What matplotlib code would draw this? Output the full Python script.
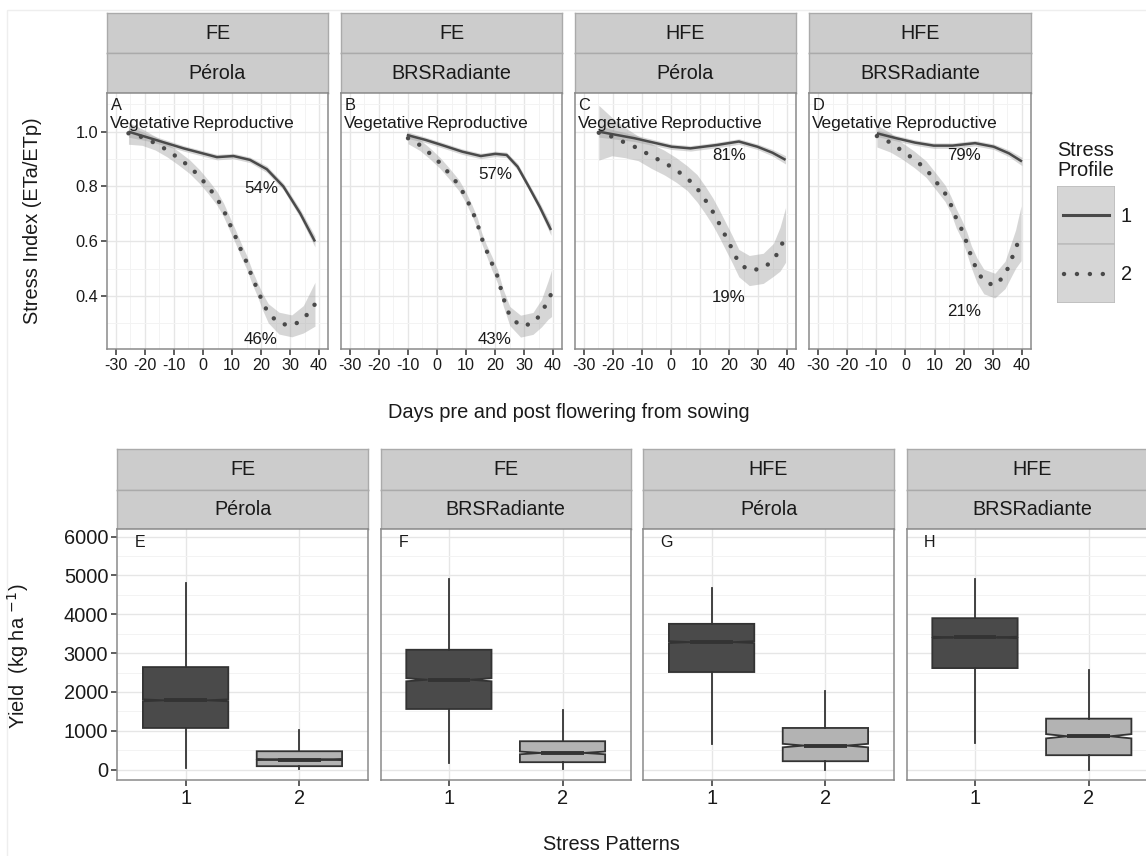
import matplotlib
matplotlib.use("Agg")
import matplotlib.pyplot as plt
from matplotlib.lines import Line2D
from matplotlib.patches import Rectangle

plt.rcParams['font.family'] = ['Liberation Sans', 'DejaVu Sans']

W, H = 1146, 856

# ---------------- data: top panels (stress index) ----------------
top_letters = ['A', 'B', 'C', 'D']
strip1 = ['FE', 'FE', 'HFE', 'HFE']
strip2 = ['Pérola', 'BRSRadiante', 'Pérola', 'BRSRadiante']
pct_upper = ['54%', '57%', '81%', '79%']
pct_upper_y = [0.793, 0.842, 0.912, 0.912]
pct_lower = ['46%', '43%', '19%', '21%']
pct_lower_y = [0.242, 0.242, 0.394, 0.343]
x_ticks_top = [-30, -20, -10, 0, 10, 20, 30, 40]
y_ticks_top = [0.4, 0.6, 0.8, 1.0]

a_x1 = [-25.7, -18.2, -6.7, 4.8, 10.5, 16.2, 22.0, 27.7, 33.5, 38.6]
a_y1 = [1.00, 0.976, 0.939, 0.907, 0.911, 0.897, 0.863, 0.80, 0.702, 0.599]
a_s1 = [0.02, 0.012, 0.01, 0.01, 0.01, 0.01, 0.012, 0.012, 0.015, 0.02]
a_x2 = [-25.7, -21.0, -16.5, -12.4, -8.4, -4.6, -1.2, 1.9, 4.8, 7.1, 9.1, 11.1,
        13.0, 15.1, 16.8, 18.6, 20.5, 22.5, 26.2, 30.6, 34.6, 38.6]
a_y2 = [0.994, 0.98, 0.958, 0.933, 0.903, 0.872, 0.836, 0.797, 0.757, 0.714, 0.666, 0.619,
        0.571, 0.522, 0.473, 0.428, 0.380, 0.337, 0.301, 0.291, 0.315, 0.37]
a_s2 = [0.04, 0.03, 0.025, 0.025, 0.025, 0.025, 0.025, 0.025, 0.025, 0.025, 0.025, 0.025,
        0.025, 0.025, 0.025, 0.025, 0.03, 0.035, 0.04, 0.04, 0.05, 0.08]

b_x1 = [-10.4, -4.0, 2.3, 8.7, 15.1, 20.1, 24.0, 27.8, 31.6, 35.4, 39.3]
b_y1 = [0.988, 0.970, 0.949, 0.927, 0.911, 0.919, 0.915, 0.872, 0.80, 0.726, 0.641]
b_s1 = [0.012, 0.01, 0.01, 0.01, 0.01, 0.01, 0.01, 0.012, 0.012, 0.015, 0.02]
b_x2 = [-10.0, -5.9, -2.3, 1.1, 4.3, 7.5, 9.8, 12.0, 13.9, 15.2, 17.0, 18.9, 20.9,
        22.8, 25.1, 28.8, 33.1, 36.0, 38.3, 39.5]
b_y2 = [0.976, 0.951, 0.919, 0.885, 0.846, 0.805, 0.763, 0.714, 0.666, 0.617, 0.568, 0.52, 0.471,
        0.395, 0.327, 0.29, 0.30, 0.337, 0.385, 0.41]
b_s2 = [0.02, 0.02, 0.02, 0.02, 0.02, 0.02, 0.02, 0.02, 0.02, 0.02, 0.02, 0.025, 0.025,
        0.03, 0.035, 0.04, 0.04, 0.05, 0.07, 0.085]

c_x1 = [-24.9, -12.6, 0.2, 6.7, 15.7, 23.4, 29.8, 35.0, 39.5]
c_y1 = [1.0, 0.976, 0.945, 0.939, 0.951, 0.964, 0.945, 0.923, 0.897]
c_s1 = [0.02, 0.012, 0.01, 0.01, 0.01, 0.01, 0.01, 0.012, 0.015]
c_x2 = [-24.9, -20.4, -15.9, -11.3, -6.8, -2.3, 1.8, 5.6, 9.0, 11.8, 14.4, 16.7, 18.9,
        21.1, 23.4, 27.0, 31.8, 35.3, 37.6, 39.5]
c_y2 = [0.996, 0.982, 0.96, 0.939, 0.911, 0.887, 0.86, 0.83, 0.793, 0.751, 0.708, 0.663, 0.617,
        0.571, 0.52, 0.493, 0.501, 0.532, 0.571, 0.623]
c_s2 = [0.1, 0.07, 0.055, 0.045, 0.045, 0.045, 0.045, 0.045, 0.05, 0.05, 0.05, 0.05, 0.05,
        0.05, 0.05, 0.055, 0.055, 0.06, 0.08, 0.1]

d_x1 = [-9.8, -3.1, 3.3, 9.7, 16.2, 23.9, 30.3, 35.5, 40.0]
d_y1 = [0.994, 0.976, 0.96, 0.949, 0.949, 0.958, 0.945, 0.921, 0.891]
d_s1 = [0.012, 0.01, 0.01, 0.01, 0.01, 0.01, 0.01, 0.012, 0.015]
d_x2 = [-9.8, -5.1, -1.3, 3.0, 7.1, 10.3, 13.6, 15.5, 17.4, 19.4, 21.1, 22.6, 24.5,
        26.9, 30.7, 34.2, 37.8, 39.7]
d_y2 = [0.984, 0.96, 0.931, 0.899, 0.863, 0.82, 0.775, 0.736, 0.684, 0.641, 0.593, 0.544, 0.495,
        0.453, 0.438, 0.477, 0.571, 0.629]
d_s2 = [0.04, 0.035, 0.03, 0.03, 0.03, 0.03, 0.03, 0.03, 0.035, 0.035, 0.04, 0.04, 0.045,
        0.045, 0.045, 0.05, 0.07, 0.1]

top_series = [
    ((a_x1, a_y1, a_s1), (a_x2, a_y2, a_s2)),
    ((b_x1, b_y1, b_s1), (b_x2, b_y2, b_s2)),
    ((c_x1, c_y1, c_s1), (c_x2, c_y2, c_s2)),
    ((d_x1, d_y1, d_s1), (d_x2, d_y2, d_s2)),
]

# ---------------- data: bottom panels (yield boxplots) ----------------
bottom_letters = ['E', 'F', 'G', 'H']
stress_patterns = ['1', '2']
yield_whislo = [[43, 17], [171, 17], [668, 0], [685, 0]]
yield_q1 = [[1071, 86], [1560, 189], [2512, 214], [2614, 369]]
yield_med = [[1783, 257], [2314, 428], [3283, 617], [3403, 857]]
yield_q3 = [[2640, 471], [3086, 729], [3754, 1071], [3900, 1311]]
yield_whishi = [[4816, 1028], [4903, 1543], [4688, 2014], [4903, 2571]]
yield_notch = [[25, 15], [40, 35], [25, 45], [20, 55]]
y_ticks_bottom = [0, 1000, 2000, 3000, 4000, 5000, 6000]

# ---------------- styling ----------------
TXT = '#1a1a1a'
LINE = '#4a4a4a'
RIB = '#9a9a9a'
STRIP_FC = '#cccccc'
STRIP_EC = '#aaaaaa'
BORDER = '#8a8a8a'
GRID_MAJ = '#e6e6e6'
GRID_MIN = '#f3f3f3'
BOX_FILLS = ['#4a4a4a', '#b3b3b3']
BOX_EDGE = '#333333'
DOTS = (0, (0.01, 2.9))

fig = plt.figure(figsize=(W / 100, H / 100), dpi=100)
fig.patch.set_facecolor('white')

# faint outer frame of the original figure
fig.add_artist(Rectangle((7 / W, -0.1), 1.2, 1 - 10 / H + 0.1,
                         transform=fig.transFigure, fill=False,
                         edgecolor='#eeeeee', linewidth=1.0))


def rect(x0, y0, x1, y1):
    return [x0 / W, 1 - y1 / H, (x1 - x0) / W, (y1 - y0) / H]


def add_strip(x0, x1, y0, y1, label):
    sax = fig.add_axes(rect(x0, y0, x1, y1))
    sax.set_facecolor(STRIP_FC)
    sax.set_xticks([])
    sax.set_yticks([])
    for s in sax.spines.values():
        s.set_color(STRIP_EC)
        s.set_linewidth(1.0)
    sax.text(0.5, 0.5, label, ha='center', va='center', fontsize=14.2,
             color=TXT, transform=sax.transAxes)


def style_axes(ax):
    ax.set_axisbelow(True)
    for s in ax.spines.values():
        s.set_color(BORDER)
        s.set_linewidth(1.1)
    ax.grid(True, which='major', color=GRID_MAJ, linewidth=1.0)
    ax.grid(True, which='minor', color=GRID_MIN, linewidth=0.7)
    ax.tick_params(which='major', length=4.5, width=1.1, color='#333333',
                   labelcolor=TXT, pad=2)
    ax.tick_params(which='minor', length=0)


# ---------------- top row ----------------
top_x = [(107, 328), (341, 562), (575, 796), (809, 1031)]
top_y0, top_y1 = 93.3, 349.3
for i, (x0, x1) in enumerate(top_x):
    add_strip(x0, x1, 13.3, 53.3, strip1[i])
    add_strip(x0, x1, 53.3, 93.3, strip2[i])
    ax = fig.add_axes(rect(x0, top_y0, x1, top_y1))
    style_axes(ax)
    ax.set_xlim(-33.1, 43.1)
    ax.set_ylim(0.2055, 1.14)
    ax.set_xticks(x_ticks_top)
    ax.set_xticks([-25, -15, -5, 5, 15, 25, 35], minor=True)
    ax.set_yticks(y_ticks_top)
    ax.set_yticks([0.3, 0.5, 0.7, 0.9, 1.1], minor=True)
    ax.set_xticklabels([str(v) for v in x_ticks_top], fontsize=11.6)
    if i == 0:
        ax.set_yticklabels(['%.1f' % v for v in y_ticks_top], fontsize=11.8)
    else:
        ax.tick_params(axis='y', which='both', length=0, labelleft=False)

    (x1s, y1s, s1s), (x2s, y2s, s2s) = top_series[i]
    ax.fill_between(x2s, [y - s for y, s in zip(y2s, s2s)],
                    [y + s for y, s in zip(y2s, s2s)],
                    color=RIB, alpha=0.4, linewidth=0)
    ax.fill_between(x1s, [y - s for y, s in zip(y1s, s1s)],
                    [y + s for y, s in zip(y1s, s1s)],
                    color=RIB, alpha=0.4, linewidth=0)
    ax.plot(x1s, y1s, color=LINE, linewidth=1.8, solid_capstyle='butt')
    ax.plot(x2s, y2s, color=LINE, linewidth=3.2,
            linestyle=DOTS, dash_capstyle='round')

    ax.text(-30, 1.094, top_letters[i], ha='center', va='center',
            fontsize=11.8, color=TXT)
    ax.text(-18.3, 1.03, 'Vegetative', ha='center', va='center',
            fontsize=12.4, color=TXT)
    ax.text(14.0, 1.03, 'Reproductive', ha='center', va='center',
            fontsize=12.4, color=TXT)
    ax.text(20, pct_upper_y[i], pct_upper[i], ha='center', va='center',
            fontsize=12.2, color=TXT)
    ax.text(20, pct_lower_y[i], pct_lower[i], ha='center', va='center',
            fontsize=12.2, color=TXT)

fig.text(33 / W, 1 - 221 / H, 'Stress Index (ETa/ETp)', rotation=90,
         ha='center', va='center', fontsize=14.4, color=TXT)
fig.text(569 / W, 1 - 413 / H, 'Days pre and post flowering from sowing',
         ha='center', va='center', fontsize=14.4, color=TXT)

# legend
fig.text(1057 / W, 1 - 150 / H, 'Stress', ha='left', va='center',
         fontsize=14.4, color=TXT)
fig.text(1057 / W, 1 - 171 / H, 'Profile', ha='left', va='center',
         fontsize=14.4, color=TXT)
lax = fig.add_axes(rect(1057, 186, 1115, 302.7))
lax.set_xlim(0, 1)
lax.set_ylim(0, 2)
lax.axis('off')
for k in range(2):
    lax.add_patch(Rectangle((0, 1 - k), 1, 1, facecolor='#d6d6d6',
                            edgecolor='#bdbdbd', linewidth=1.2))
lax.add_line(Line2D([0.1, 0.9], [1.5, 1.5], color=LINE, linewidth=2.2))
lax.add_line(Line2D([0.12, 0.9], [0.5, 0.5], color=LINE, linewidth=3.2,
                    linestyle=DOTS, dash_capstyle='round'))
fig.text(1121 / W, 1 - 217 / H, '1', ha='left', va='center',
         fontsize=14.4, color=TXT)
fig.text(1121 / W, 1 - 275 / H, '2', ha='left', va='center',
         fontsize=14.4, color=TXT)

# ---------------- bottom row ----------------
bot_x = [(117.3, 367.7), (380.7, 630.7), (643.3, 893.7), (906.7, 1157)]
bot_y0, bot_y1 = 529.3, 780
for i, (x0, x1) in enumerate(bot_x):
    add_strip(x0, x1, 449.3, 490, strip1[i])
    add_strip(x0, x1, 490, 529.3, strip2[i])
    ax = fig.add_axes(rect(x0, bot_y0, x1, bot_y1))
    style_axes(ax)
    ax.set_xlim(0.4, 2.6)
    ax.set_ylim(-270, 6190)
    ax.set_yticks(y_ticks_bottom)
    ax.set_yticks([500, 1500, 2500, 3500, 4500, 5500], minor=True)
    ax.grid(False, axis='x', which='minor')

    stats = []
    for j in range(2):
        stats.append(dict(
            med=yield_med[i][j], q1=yield_q1[i][j], q3=yield_q3[i][j],
            whislo=yield_whislo[i][j], whishi=yield_whishi[i][j],
            cilo=yield_med[i][j] - yield_notch[i][j],
            cihi=yield_med[i][j] + yield_notch[i][j],
            fliers=[], label=stress_patterns[j]))
    bp = ax.bxp(stats, positions=[1, 2], widths=0.75, shownotches=True,
                showcaps=False, showfliers=False, patch_artist=True,
                boxprops=dict(edgecolor=BOX_EDGE, linewidth=1.3),
                whiskerprops=dict(color=BOX_EDGE, linewidth=1.3),
                medianprops=dict(color=BOX_EDGE, linewidth=2.8))
    for patch, fc in zip(bp['boxes'], BOX_FILLS):
        patch.set_facecolor(fc)
    ax.set_xticks([1, 2])
    ax.set_xticklabels(stress_patterns, fontsize=14.4)
    if i == 0:
        ax.set_yticklabels([str(v) for v in y_ticks_bottom], fontsize=14.4)
    else:
        ax.tick_params(axis='y', which='both', length=0, labelleft=False)
    ax.text(0.6, 5855, bottom_letters[i], ha='center', va='center',
            fontsize=11.5, color=TXT)

fig.text(18 / W, 1 - 656 / H, 'Yield  (kg ha $^{-1}$)', rotation=90,
         ha='center', va='center', fontsize=14.4, color=TXT)
fig.text(611 / W, 1 - 845 / H, 'Stress Patterns', ha='center', va='center',
         fontsize=14.4, color=TXT)

fig.savefig('out.png', dpi=100, facecolor='white')
